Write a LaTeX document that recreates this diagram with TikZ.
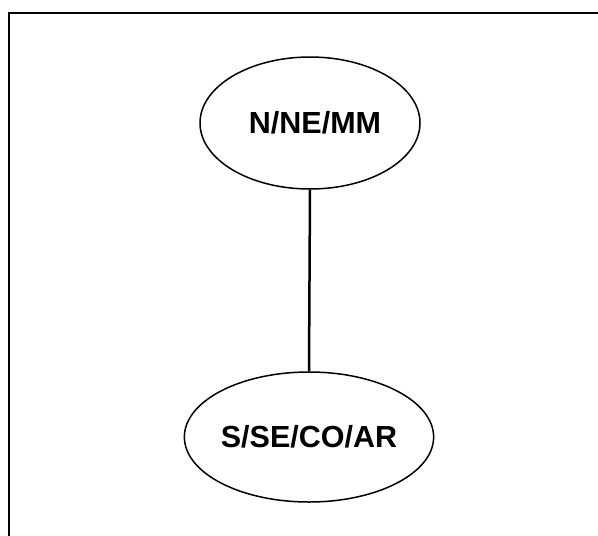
\documentclass[tikz,border=0pt]{standalone}
\usepackage{fontspec}
\setmainfont{Liberation Sans}
\usetikzlibrary{shapes.geometric}
\begin{document}
\begin{tikzpicture}[x=1pt,y=-1pt,
  region/.style={draw, line width=1.5pt, ellipse, minimum width=220pt, minimum height=132pt, inner sep=0pt,
    font=\fontsize{30.5}{36}\selectfont\bfseries},
  link/.style={line width=2.5pt}]
\useasboundingbox (0,0) rectangle (598,536);
\coordinate (fa) at (9,536);
\coordinate (fb) at (9,13);
\coordinate (fc) at (598,13);
\draw[line width=1.8pt] (fa) -- (fb) -- (fc);
\node[region] (n) at (310,123) {\hspace*{10pt}N/NE/MM};
\node[region, minimum width=218pt, minimum height=130pt] (s) at (309,437) {S/SE/CO/AR};
\draw[link] (n.south) -- (s.north);
\end{tikzpicture}
\end{document}
